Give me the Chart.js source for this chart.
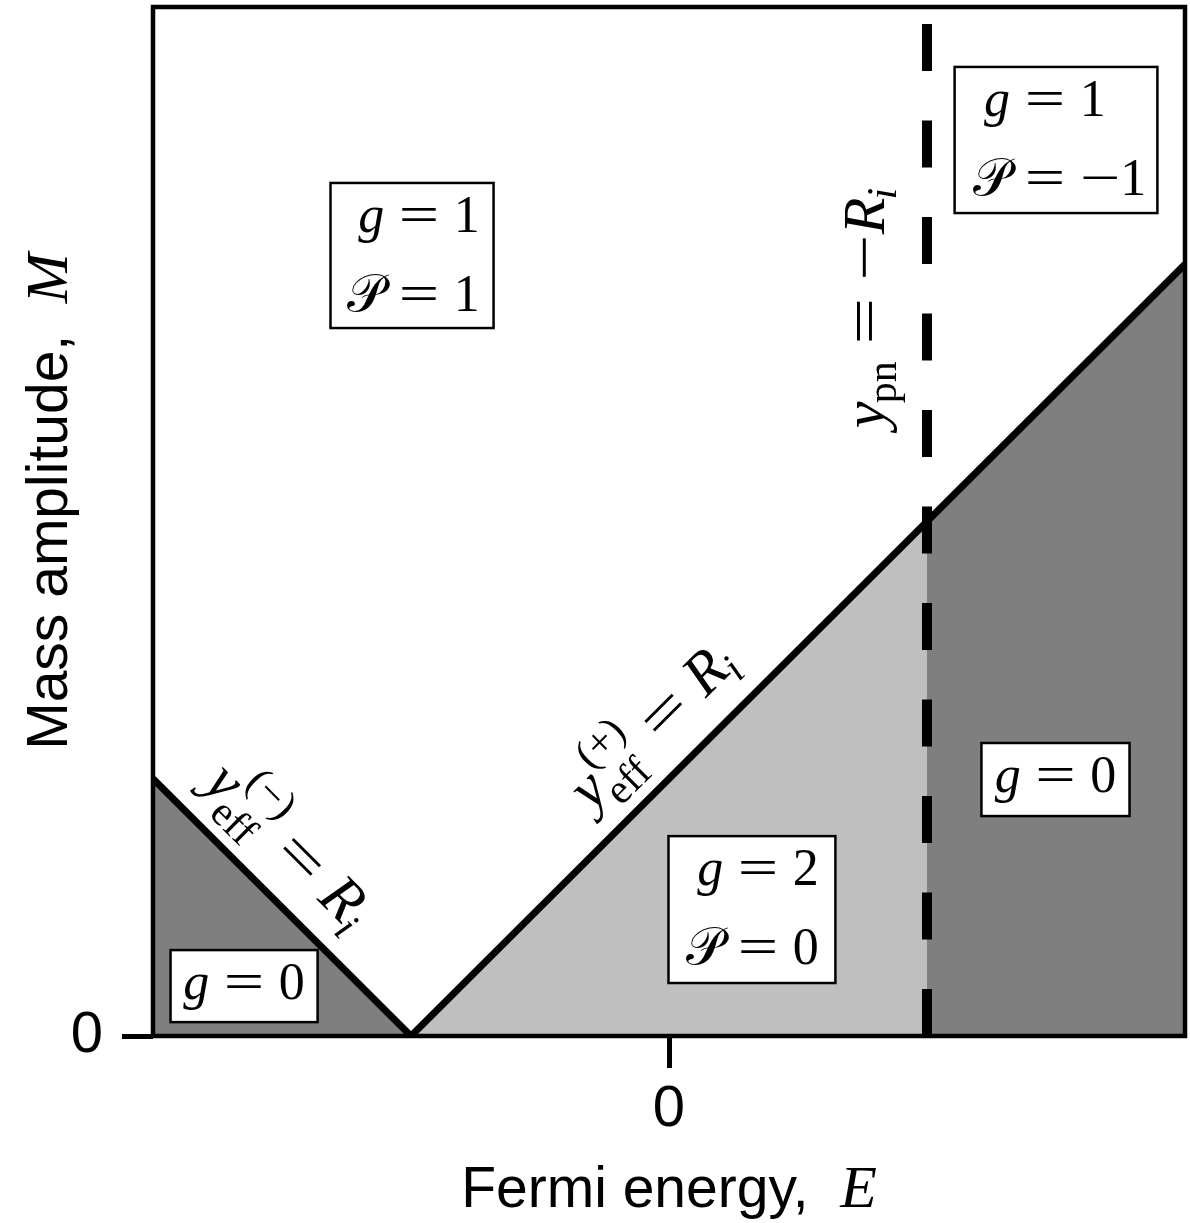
<!DOCTYPE html>
<html>
<head>
<meta charset="utf-8">
<script src="https://cdn.jsdelivr.net/npm/chart.js@4.4.0/dist/chart.umd.min.js"></script>
<style>
  html, body { margin: 0; padding: 0; background: #fff; }
</style>
</head>
<body>
<canvas id="phaseChart" width="1190" height="1223"></canvas>
<script>
// Fermi energy E at the kinks of the band boundary and the mass amplitude M there
const energy = [-2, -1, 1, 2];
const boundaryMass = [1, 0, 2, 3];
// vertical line y_pn = -R_i
const pnEnergy = [1, 1];
const pnMass = [0, 4];
const xTicks = [0];
const yTicks = [0];

const SERIF = '"Liberation Serif", "DejaVu Serif", serif';
const SANS = '"Liberation Sans", Arial, sans-serif';
const CAL = '"DejaVu Serif", "DejaVu Sans", serif';
const WIDE = 1.38; // stretch for = and minus

const toPoints = (xs, ys) => xs.map((x, i) => ({ x, y: ys[i] }));

// g = 0 | g = 2 | g = 0 under the boundary
const shades = ['#7f7f7f', '#bfbfbf', '#7f7f7f'];
const regionSets = shades.map((shade, i) => ({
  data: toPoints(energy.slice(i, i + 2), boundaryMass.slice(i, i + 2)),
  fill: 'origin',
  backgroundColor: shade,
  borderWidth: 0,
  pointRadius: 0,
  order: 3
}));

// little math typesetter: tokens -> positioned runs
const minus = { t: '\u2212', sx: WIDE };
const gEq = v => [{ t: 'g', it: true }, { op: '=' }, { t: v }];
const pEq = v => [{ t: '\u{1D4AB}', cal: true }, { op: '=' }].concat(v === '-1' ? [minus, { t: '1' }] : [{ t: v }]);
const yEff = s => [{ t: 'y', it: true, sub: 'eff', sup: s }, { op: '=' }, { t: 'R', it: true, sub: 'i', subIt: true }];
const yPn = [{ t: 'y', it: true, sub: 'pn' }, { op: '=' }, minus, { t: 'R', it: true, sub: 'i', subIt: true }];

function mathFont(size, italic, family) {
  return (italic ? 'italic ' : '') + size + 'px ' + (family || SERIF);
}

function layoutMath(ctx, tokens, size) {
  const items = [];
  let w = 0;
  for (const tok of tokens) {
    const sz = tok.size || size;
    if (tok.op) {
      const gap = sz * 0.28;
      ctx.font = mathFont(sz, false);
      const ow = ctx.measureText(tok.op).width * WIDE;
      items.push({ text: tok.op, font: ctx.font, x: w + gap, dy: 0, w: ow, sx: WIDE, op: true });
      w += ow + 2 * gap;
      continue;
    }
    ctx.font = mathFont(sz, tok.it, tok.cal ? CAL : tok.family);
    const sx = tok.sx || 1;
    const tw = ctx.measureText(tok.t).width * sx;
    items.push({ text: tok.t, font: ctx.font, x: w, dy: 0, sx });
    w += tw;
    const s = sz * 0.7;
    const both = tok.sub && tok.sup;
    let sw = 0;
    if (tok.sub) {
      ctx.font = mathFont(s, tok.subIt);
      items.push({ text: tok.sub, font: ctx.font, x: w - sz * 0.03, dy: sz * (both ? 0.28 : 0.2) });
      sw = Math.max(sw, ctx.measureText(tok.sub).width - sz * 0.03);
    }
    if (tok.sup) {
      ctx.font = mathFont(s, false);
      items.push({ text: tok.sup, font: ctx.font, x: w + sz * 0.04, dy: -sz * 0.5 });
      sw = Math.max(sw, ctx.measureText(tok.sup).width + sz * 0.04);
    }
    w += sw;
  }
  return { items, width: w };
}

function drawMath(ctx, tokens, size, px, py, align, angle) {
  const { items, width } = layoutMath(ctx, tokens, size);
  let x0 = -width / 2;
  if (align === 'eq') {
    const eq = items.find(it => it.op);
    x0 = -(eq.x + eq.w / 2);
  }
  ctx.save();
  ctx.translate(px, py);
  ctx.rotate(angle || 0);
  ctx.textBaseline = 'alphabetic';
  ctx.textAlign = 'left';
  ctx.fillStyle = '#000';
  for (const it of items) {
    ctx.font = it.font;
    ctx.save();
    ctx.translate(x0 + it.x, it.dy);
    ctx.scale(it.sx || 1, 1);
    ctx.fillText(it.text, 0, 0);
    ctx.restore();
  }
  ctx.restore();
}

// boxed phase labels, corners in (E, M)
const regionBoxes = [
  { e: [-1.312, -0.680], m: [3.316, 2.752], eqE: -0.969, rows: [gEq('1'), pEq('1')] },
  { e: [1.107, 1.893], m: [3.767, 3.199], eqE: 1.457, rows: [gEq('1'), pEq('-1')] },
  { e: [-1.932, -1.362], m: [0.334, 0.054], eqE: -1.647, rows: [gEq('0')] },
  { e: [-0.002, 0.645], m: [0.777, 0.206], eqE: 0.345, rows: [gEq('2'), pEq('0')] },
  { e: [1.211, 1.785], m: [1.139, 0.855], eqE: 1.498, rows: [gEq('0')] }
];
const rowBaselines = [49, 128];

// labels riding on the boundary segments
const edgeLabels = [
  { tokens: yEff('(\u2212)'), seg: 0, at: [-1.606, 0.606], lift: 30 },
  { tokens: yEff('(+)'), seg: 1, at: [0.07, 1.07], lift: 31 }
];
const pnLabel = { tokens: yPn, at: [1, 2.83], lift: 43.5 };

const annotate = {
  id: 'annotate',
  afterDatasetsDraw(chart) {
    const { ctx, chartArea: a, scales: { x, y } } = chart;
    ctx.save();

    // frame
    ctx.strokeStyle = '#000';
    ctx.lineWidth = 4.5;
    ctx.strokeRect(a.left, a.top, a.right - a.left, a.bottom - a.top);

    // boxes
    for (const b of regionBoxes) {
      const l = x.getPixelForValue(b.e[0]), r = x.getPixelForValue(b.e[1]);
      const t = y.getPixelForValue(b.m[0]), btm = y.getPixelForValue(b.m[1]);
      ctx.fillStyle = '#fff';
      ctx.fillRect(l, t, r - l, btm - t);
      ctx.lineWidth = 2.5;
      ctx.strokeRect(l, t, r - l, btm - t);
      b.rows.forEach((row, i) => {
        drawMath(ctx, row, 52, x.getPixelForValue(b.eqE), t + rowBaselines[i], 'eq');
      });
    }

    // boundary labels
    for (const lab of edgeLabels) {
      const x1 = x.getPixelForValue(energy[lab.seg]), y1 = y.getPixelForValue(boundaryMass[lab.seg]);
      const x2 = x.getPixelForValue(energy[lab.seg + 1]), y2 = y.getPixelForValue(boundaryMass[lab.seg + 1]);
      const ang = Math.atan2(y2 - y1, x2 - x1);
      const px = x.getPixelForValue(lab.at[0]) + Math.sin(ang) * lab.lift;
      const py = y.getPixelForValue(lab.at[1]) - Math.cos(ang) * lab.lift;
      drawMath(ctx, lab.tokens, 60, px, py, 'center', ang);
    }
    drawMath(ctx, pnLabel.tokens, 60,
      x.getPixelForValue(pnLabel.at[0]) - pnLabel.lift, y.getPixelForValue(pnLabel.at[1]),
      'center', -Math.PI / 2);

    // axis titles
    drawMath(ctx, [{ t: 'Fermi energy,  ', family: SANS, size: 57 }, { t: 'E', it: true }], 60,
      (a.left + a.right) / 2, 1207, 'center');
    drawMath(ctx, [{ t: 'Mass amplitude,  ', family: SANS, size: 57 }, { t: 'M', it: true }], 60,
      67, (a.top + a.bottom) / 2 - 20, 'center', -Math.PI / 2);

    ctx.restore();
  }
};

new Chart(document.getElementById('phaseChart'), {
  type: 'line',
  data: {
    datasets: [
      {
        data: toPoints(pnEnergy, pnMass),
        borderColor: '#000',
        borderWidth: 10,
        borderDash: [47, 49.5],
        borderCapStyle: 'butt',
        pointRadius: 0,
        fill: false,
        order: 0
      },
      {
        data: toPoints(energy, boundaryMass),
        borderColor: '#000',
        borderWidth: 7,
        borderJoinStyle: 'miter',
        pointRadius: 0,
        fill: false,
        tension: 0,
        order: 1
      },
      ...regionSets
    ]
  },
  options: {
    responsive: false,
    devicePixelRatio: 1,
    animation: false,
    layout: { padding: { top: 7, right: 5, left: 0, bottom: 0 } },
    plugins: { legend: { display: false }, tooltip: { enabled: false } },
    scales: {
      x: {
        type: 'linear',
        min: -2,
        max: 2,
        afterBuildTicks: s => { s.ticks = xTicks.map(v => ({ value: v })); },
        afterFit: s => { s.height = 187; s.paddingLeft = 0; s.paddingRight = 0; },
        grid: { drawOnChartArea: false, drawTicks: true, tickLength: 32, tickColor: '#000', tickWidth: 5 },
        border: { display: false },
        ticks: { color: '#000', font: { family: 'Liberation Sans', size: 58 }, padding: 7, maxRotation: 0 }
      },
      y: {
        type: 'linear',
        min: 0,
        max: 4,
        afterBuildTicks: s => { s.ticks = yTicks.map(v => ({ value: v })); },
        afterFit: s => { s.width = 153; s.paddingTop = 0; s.paddingBottom = 0; },
        grid: { drawOnChartArea: false, drawTicks: true, tickLength: 31, tickColor: '#000', tickWidth: 5 },
        border: { display: false },
        ticks: { color: '#000', font: { family: 'Liberation Sans', size: 58 }, padding: 19 }
      }
    }
  },
  plugins: [annotate]
});
</script>
</body>
</html>
